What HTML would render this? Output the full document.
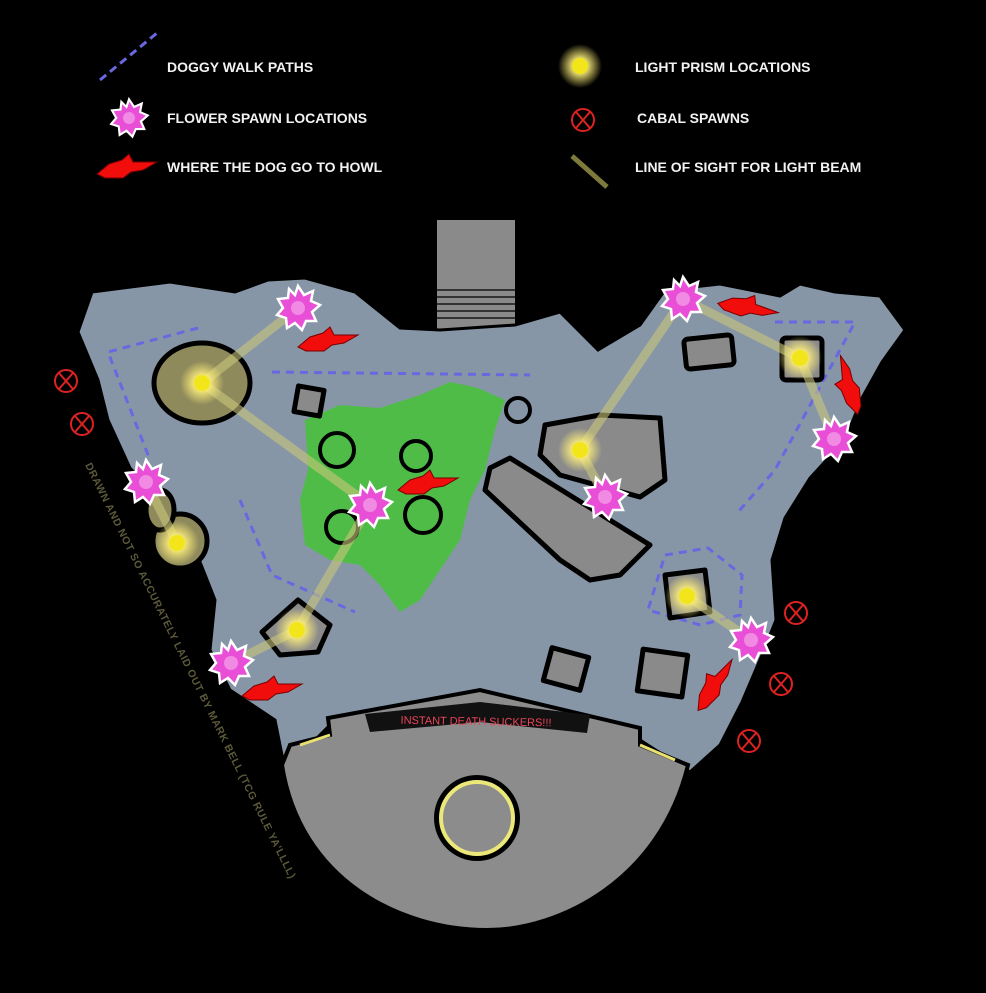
<!DOCTYPE html>
<html><head><meta charset="utf-8"><style>
html,body{margin:0;padding:0;background:#000;}
svg{display:block}
.lg{font-family:"Liberation Sans",sans-serif;font-weight:bold;font-size:14px;fill:#f2f2f2;}
</style></head><body>
<svg width="986" height="993" viewBox="0 0 986 993" xmlns="http://www.w3.org/2000/svg">
<defs>
<radialGradient id="glow"><stop offset="0" stop-color="#fff8a0"/><stop offset="0.35" stop-color="#fff07a" stop-opacity="0.9"/><stop offset="1" stop-color="#fff07a" stop-opacity="0"/></radialGradient>
<g id="fl">
<polygon points="0,-22 6,-13 15,-17 13,-7 22,-3 14,4 18,13 8,13 4,22 -3,15 -11,20 -12,10 -21,7 -15,0 -20,-9 -10,-10 -9,-19 -3,-13" fill="#e94fd6" stroke="#fff" stroke-width="2.5"/>
<circle r="7" fill="#f08ae3"/>
</g>
<g id="pr"><circle r="22" fill="url(#glow)"/><circle r="8" fill="#f2e61a"/></g>
<g id="hw"><path d="M-30,6 L-18,-4 L-5,-8 L2,-14 L6,-6 L30,-6 L16,2 L4,4 L-4,10 L-22,10 Z" fill="#f20d0d" stroke="#700" stroke-width="1"/></g>
<g id="cb"><circle r="11" fill="none" stroke="#d22" stroke-width="2"/><path d="M-7,-8 L7,8 M7,-8 L-7,8" stroke="#d22" stroke-width="2"/></g>
</defs>
<rect width="986" height="993" fill="#000"/>
<!-- legend -->
<line x1="100" y1="80" x2="157" y2="33" stroke="#6a68e0" stroke-width="3" stroke-dasharray="8,5"/>
<text class="lg" x="167" y="72">DOGGY WALK PATHS</text>
<use href="#fl" x="0" y="0" transform="translate(129,118) scale(0.85)"/>
<text class="lg" x="167" y="123">FLOWER SPAWN LOCATIONS</text>
<use href="#hw" x="127" y="168"/>
<text class="lg" x="167" y="172">WHERE THE DOG GO TO HOWL</text>
<use href="#pr" x="580" y="66"/>
<text class="lg" x="635" y="72">LIGHT PRISM LOCATIONS</text>
<use href="#cb" x="583" y="120"/>
<text class="lg" x="637" y="123">CABAL SPAWNS</text>
<line x1="572" y1="156" x2="607" y2="187" stroke="#7d7a3c" stroke-width="5"/>
<text class="lg" x="635" y="172">LINE OF SIGHT FOR LIGHT BEAM</text>
<!-- stairs -->
<rect x="437" y="220" width="78" height="110" fill="#8a8a8a"/>
<g stroke="#333" stroke-width="2"><line x1="437" y1="290" x2="515" y2="290"/><line x1="437" y1="297" x2="515" y2="297"/><line x1="437" y1="304" x2="515" y2="304"/><line x1="437" y1="311" x2="515" y2="311"/><line x1="437" y1="318" x2="515" y2="318"/></g>
<!-- main floor -->
<path d="M92,292 L170,282 L235,292 L268,280 L305,278 L355,292 L400,328 L440,330 L515,325 L560,312 L598,350 L640,325 L665,290 L720,284 L780,296 L800,284 L835,292 L880,296 L905,330 L882,362 L862,398 L845,440 L810,478 L785,518 L772,560 L776,620 L762,655 L742,702 L720,745 L690,772 L640,740 L480,690 L330,725 L285,770 L275,720 L230,690 L210,650 L215,600 L200,562 L168,510 L130,468 L108,420 L98,380 L78,332 Z" fill="#8796a7" stroke="#000" stroke-width="3"/>
<!-- green -->
<path d="M305,420 L340,405 L380,408 L420,395 L450,382 L478,388 L505,400 L495,430 L485,470 L470,500 L460,540 L440,570 L420,600 L400,612 L380,585 L360,565 L330,560 L305,545 L300,500 L308,470 Z" fill="#4fbc48"/>
<g fill="none" stroke="#000" stroke-width="4">
<circle cx="337" cy="450" r="17"/><circle cx="416" cy="456" r="15"/><circle cx="518" cy="410" r="12"/><circle cx="342" cy="527" r="16"/><circle cx="423" cy="515" r="18"/>
</g>
<!-- dashed paths -->
<g fill="none" stroke="#6a68e0" stroke-width="3" stroke-dasharray="8,6">
<path d="M198,328 L108,352 L150,460"/>
<path d="M240,500 L272,575 L355,612"/>
<path d="M272,372 L530,375"/>
<path d="M775,322 L855,322 L775,470 L738,512"/>
<path d="M665,555 L708,548 L742,575 L740,615 L700,625 L648,610 Z"/>
</g>
<!-- blocks -->
<g fill="#8a8a8a" stroke="#000" stroke-width="5" stroke-linejoin="round">
<rect x="296" y="388" width="26" height="26" transform="rotate(10 309 401)"/>
<path d="M545,425 L600,415 L660,418 L665,480 L640,497 L560,475 L540,455 Z"/>
<path d="M490,468 L510,458 L650,545 L620,575 L590,580 L560,560 L485,490 Z"/>
<rect x="685" y="337" width="48" height="30" rx="4" transform="rotate(-6 709 352)"/>
<rect x="782" y="338" width="40" height="42" rx="4"/>
<rect x="547" y="652" width="38" height="34" transform="rotate(15 566 669)"/>
<rect x="640" y="652" width="45" height="42" transform="rotate(8 662 673)"/>
<path d="M262,632 L298,600 L330,625 L318,652 L280,655 Z"/>
<path d="M665,575 L705,570 L710,612 L670,618 Z"/>
</g>
<g fill="#8f8a5c" stroke="#000" stroke-width="5">
<ellipse cx="202" cy="383" rx="48" ry="40"/>
<circle cx="180" cy="541" r="27"/>
<ellipse cx="160" cy="510" rx="14" ry="20"/>
</g>
<!-- beams -->
<g stroke="#c9c67a" stroke-opacity="0.6" stroke-width="9" stroke-linecap="round">
<line x1="298" y1="308" x2="202" y2="383"/><line x1="202" y1="383" x2="370" y2="505"/>
<line x1="146" y1="482" x2="177" y2="543"/><line x1="370" y1="505" x2="297" y2="630"/>
<line x1="297" y1="630" x2="231" y2="663"/><line x1="683" y1="299" x2="580" y2="450"/>
<line x1="580" y1="450" x2="605" y2="497"/><line x1="683" y1="299" x2="800" y2="358"/>
<line x1="800" y1="358" x2="834" y2="439"/><line x1="687" y1="596" x2="751" y2="640"/>
</g>
<!-- arena -->
<path d="M282,765 L290,745 L330,735 L328,718 L480,690 L640,728 L640,745 L688,765 C660,880 560,930 487,930 C400,930 300,880 282,765 Z" fill="#8c8c8d" stroke="#000" stroke-width="4"/>
<path d="M300,745 L330,735" stroke="#e8e070" stroke-width="3"/>
<path d="M640,745 L675,760" stroke="#e8e070" stroke-width="3"/>
<circle cx="477" cy="818" r="40" fill="#8c8c8d" stroke="#000" stroke-width="6"/>
<circle cx="477" cy="818" r="36" fill="none" stroke="#ece779" stroke-width="4"/>
<path d="M365,714 L480,702 L590,715 L587,733 L480,722 L370,732 Z" fill="#111"/>
<text x="476" y="725" font-family="Liberation Sans,sans-serif" font-size="11" fill="#e8465a" text-anchor="middle" transform="rotate(1 476 725)">INSTANT DEATH SUCKERS!!!</text>
<!-- markers -->
<use href="#pr" x="202" y="383"/><use href="#pr" x="177" y="543"/><use href="#pr" x="297" y="630"/>
<use href="#pr" x="580" y="450"/><use href="#pr" x="800" y="358"/><use href="#pr" x="687" y="596"/>
<use href="#hw" x="328" y="341"/><use href="#hw" x="748" y="308" transform="rotate(20 748 308)"/>
<use href="#hw" x="849" y="385" transform="rotate(-95 849 385)"/><use href="#hw" x="428" y="484"/>
<use href="#hw" x="272" y="690"/><use href="#hw" x="715" y="685" transform="rotate(-45 715 685)"/>
<use href="#fl" x="298" y="308"/><use href="#fl" x="683" y="299"/><use href="#fl" x="146" y="482"/>
<use href="#fl" x="370" y="505"/><use href="#fl" x="605" y="497"/><use href="#fl" x="834" y="439"/>
<use href="#fl" x="231" y="663"/><use href="#fl" x="751" y="640"/>
<use href="#cb" x="66" y="381"/><use href="#cb" x="82" y="424"/><use href="#cb" x="796" y="613"/>
<use href="#cb" x="781" y="684"/><use href="#cb" x="749" y="741"/>
<text x="85" y="465" font-family="Liberation Sans,sans-serif" font-weight="bold" font-size="10.5" fill="#5c5a3a" transform="rotate(63.7 85 465)" textLength="462">DRAWN AND NOT SO ACCURATELY LAID OUT BY MARK BELL (TCG RULE YA'LLLL)</text>
</svg>
</body></html>
